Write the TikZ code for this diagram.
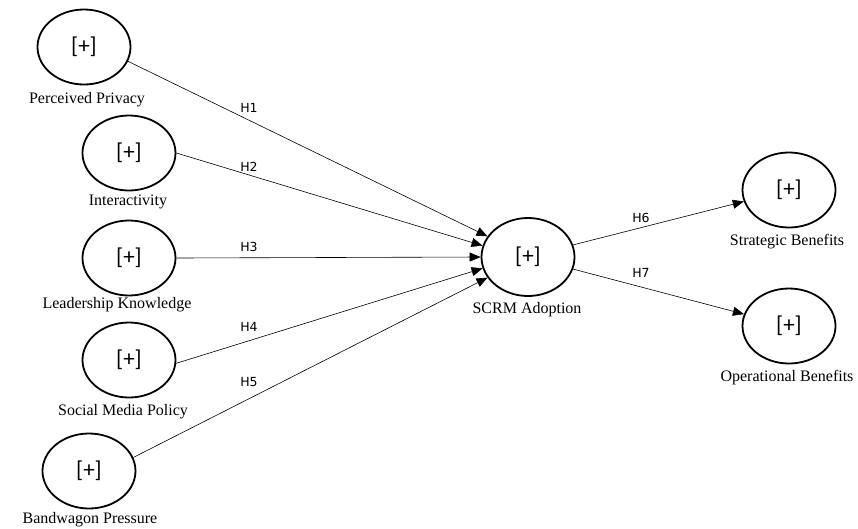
\documentclass[tikz,border=0pt]{standalone}
\usepackage{fontspec}
\setmainfont{Liberation Serif}
\newfontfamily\plusfont{Carlito}
\newfontfamily\hypfont{DejaVu Sans}
\usetikzlibrary{arrows.meta,shapes.geometric}
\tikzset{
  construct/.style={ellipse, draw, line width=1.8pt, minimum width=93pt, minimum height=75pt, inner sep=0pt, font=\plusfont\fontsize{23}{25}\selectfont},
  cname/.style={inner sep=0pt, font=\fontsize{16}{18}\selectfont},
  hyp/.style={inner sep=0pt, font=\hypfont\fontsize{12.5}{14}\selectfont},
  link/.style={-{Triangle[length=11pt,width=9pt]}, line width=0.6pt}
}

\begin{document}
\begin{tikzpicture}[x=1pt, y=-1pt]
  \useasboundingbox (0,0) rectangle (858,528);
  % constructs
  \node[construct] (pp)    at (84,47)   {[+]};
  \node[construct] (inter) at (129,153) {[+]};
  \node[construct] (lead)  at (129,258) {[+]};
  \node[construct] (smp)   at (129,360) {[+]};
  \node[construct] (band)  at (89,471)  {[+]};
  \node[construct, minimum height=78pt] (scrm) at (528,257) {[+]};
  \node[construct] (strat) at (789,190) {[+]};
  \node[construct] (oper)  at (789,326) {[+]};
  % names
  \node[cname] (ppLab)    at (87,100)  {Perceived Privacy};
  \node[cname] (interLab) at (128,202) {Interactivity};
  \node[cname] (leadLab)  at (117,305) {Leadership Knowledge};
  \node[cname] (smpLab)   at (123,412) {Social Media Policy};
  \node[cname] (bandLab)  at (90,520)  {Bandwagon Pressure};
  \node[cname] (scrmLab)  at (527,310) {SCRM Adoption};
  \node[cname] (stratLab) at (787,242) {Strategic Benefits};
  \node[cname] (operLab)  at (787,378) {Operational Benefits};
  % paths
  \draw[link] (pp.-18) -- (scrm.153);
  \draw[link] (inter.east) -- (scrm.166);
  \draw[link] (lead.east) -- (scrm.180);
  \draw[link] (smp.-4) -- (scrm.194);
  \draw[link] (band.17) -- (scrm.207);
  \draw[link] (scrm.15) -- (strat);
  \draw[link] (scrm.-15) -- (oper);
  \node[hyp] (h1) at (249,108) {H1};
  \node[hyp] (h2) at (249,167) {H2};
  \node[hyp] (h3) at (249,247) {H3};
  \node[hyp] (h4) at (249,327) {H4};
  \node[hyp] (h5) at (249,382) {H5};
  \node[hyp] (h6) at (641,218) {H6};
  \node[hyp] (h7) at (641,273) {H7};
\end{tikzpicture}
\end{document}
